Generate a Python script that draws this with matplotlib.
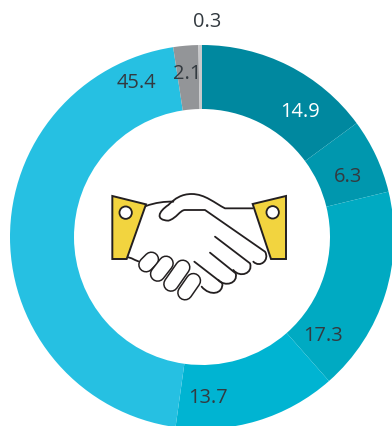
#!/usr/bin/env python3
# -*- coding:UTF-8 -*-

import matplotlib
matplotlib.use('Agg')
import matplotlib.pyplot as plt
from matplotlib.patches import Polygon, Circle, PathPatch
from matplotlib.path import Path

### Data
values = [14.9, 6.3, 17.3, 13.7, 45.4, 2.1, 0.3]
labels = ['14.9', '6.3', '17.3', '13.7', '45.4', '2.1', '0.3']
colors = ['#00889f', '#0097ae', '#00aac2', '#00b4d2', '#26c0e2', '#939598', '#c8c9cb']
label_colors = ['white', '#333a40', '#333a40', '#333a40', '#333a40', '#333a40', '#333a40']

# label centres in pixels from the top left
label_x = [300, 348, 323, 208, 136, 187, 207]
label_y = [112, 177, 336, 398, 83, 74, 22]

W, H = 392, 426
DARK = '#231f20'
YELLOW = '#f2d43f'

fig = plt.figure(figsize=(W / 100, H / 100), dpi=100)
ax = fig.add_axes([0, 0, 1, 1])

# Donut
ax.pie(values, colors=colors, startangle=90, counterclock=False,
       center=(202, H - 237), radius=192,
       wedgeprops={'width': 64, 'linewidth': 0})
ax.set_xlim(0, W)
ax.set_ylim(0, H)
ax.set_aspect('equal')
ax.axis('off')

for t, c, x, y in zip(labels, label_colors, label_x, label_y):
    ax.text(x, H - y, t, color=c, fontsize=14.4, family='Open Sans',
            ha='center', va='center')


### Handshake icon, coordinates from the zoomed crop
def pt(x, y):
    return (90 + x / 3, H - (170 + y / 3))


def stroke(verts, codes=None, lw=1.3, fc='none', z=3):
    p = [pt(*v) for v in verts]
    if codes is None:
        codes = [Path.MOVETO] + [Path.LINETO] * (len(p) - 1)
    ax.add_patch(PathPatch(Path(p, codes), fc=fc, ec=DARK, lw=lw, zorder=z,
                           capstyle='round', joinstyle='round'))


M, L, C = Path.MOVETO, Path.LINETO, Path.CURVE4

# back of the left hand
stroke([(168, 108), (195, 98), (225, 94), (250, 95)], [M, C, C, C])
stroke([(115, 262), (125, 265), (135, 270), (145, 274)])

# right hand with thumb
stroke([(488, 115), (405, 115), (375, 100), (345, 72), (305, 72), (275, 72),
        (255, 85), (235, 105), (205, 125), (195, 150), (235, 152), (260, 145),
        (270, 120), (285, 120), (345, 120), (525, 245), (540, 270), (510, 295),
        (490, 275)],
       [M, L, C, C, C, C, C, C, C, C, C, C, C, C, L, L, C, C, C], lw=1.3)

# fingers of the right hand
stroke([(375, 200), (480, 280), (490, 310), (450, 325), (430, 300)], [M, L, C, C, C])
stroke([(360, 248), (437, 310), (445, 340), (405, 352), (385, 330)], [M, L, C, C, C])
stroke([(313, 275), (397, 340), (400, 372), (360, 380), (335, 350)], [M, L, C, C, C])

# fingers of the left hand
fingers = [((168, 284), (184, 268)), ((203, 312), (228, 280)),
           ((243, 342), (278, 292)), ((285, 368), (310, 332))]
for (x0, y0), (x1, y1) in fingers:
    a, b = pt(x0, y0), pt(x1, y1)
    ax.plot([a[0], b[0]], [a[1], b[1]], color=DARK, lw=11.4,
            solid_capstyle='round', zorder=4)
    ax.plot([a[0], b[0]], [a[1], b[1]], color='white', lw=9.2,
            solid_capstyle='round', zorder=4)

# cuffs
for verts, hole in [([(67, 78), (168, 103), (110, 267), (67, 267)], (107, 128)),
                    ([(588, 78), (488, 102), (543, 267), (588, 267)], (548, 127))]:
    ax.add_patch(Polygon([pt(*v) for v in verts], closed=True, fc=YELLOW,
                         ec=DARK, lw=1.4, zorder=5, joinstyle='miter'))
    ax.add_patch(Circle(pt(*hole), 6.2, fc='white', ec=DARK, lw=1.3, zorder=6))

fig.savefig('out.png', dpi=100)
